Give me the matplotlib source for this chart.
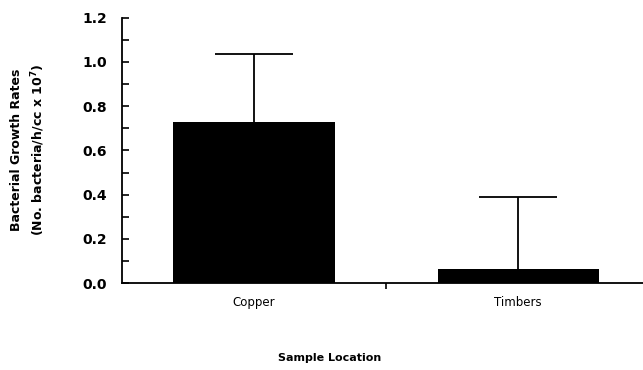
import matplotlib
matplotlib.use("Agg")
import matplotlib.pyplot as plt
from matplotlib.ticker import MultipleLocator

# data
locations = ["Copper", "Timbers"]
growth = [0.73, 0.065]
err_upper = [0.305, 0.325]
y_ticks = [0.0, 0.2, 0.4, 0.6, 0.8, 1.0, 1.2]

fig = plt.figure(figsize=(6.43, 3.70), dpi=100)
ax = fig.add_axes([122 / 643, 86.7 / 370, 1 - 122 / 643, (283.3 - 17.5) / 370])

x = list(range(len(locations)))
ax.bar(x, growth, width=0.61, color="black", zorder=2)
_, caps, _ = ax.errorbar(x, growth, yerr=[[0] * len(x), err_upper], fmt="none",
                         ecolor="black", elinewidth=1.3, capsize=28, capthick=1.3, zorder=1)
caps[0].set_visible(False)  # only the upper cap is drawn

ax.set_xlim(-0.5, 1.473)
ax.set_ylim(0, 1.2)
ax.set_yticks(y_ticks)
ax.set_yticklabels([f"{v:.1f}" for v in y_ticks], fontsize=10, fontweight="bold")
ax.yaxis.set_minor_locator(MultipleLocator(0.1))
ax.tick_params(axis="y", which="both", direction="in", length=5, width=1.2, pad=11)

ax.set_xticks(x)
ax.set_xticklabels(locations, fontsize=8.5)
ax.tick_params(axis="x", which="major", length=0, pad=9)
ax.set_xticks([0.5], minor=True)
ax.tick_params(axis="x", which="minor", direction="out", length=4, width=1.2)

for s in ["top", "right"]:
    ax.spines[s].set_visible(False)
ax.spines["left"].set_linewidth(1.3)
ax.spines["bottom"].set_linewidth(1.3)

fig.text(330 / 643, 1 - 358 / 370, "Sample Location", ha="center", va="center",
         fontsize=8, fontweight="bold")
fig.text(17 / 643, 1 - 150 / 370, "Bacterial Growth Rates", rotation=90,
         ha="center", va="center", fontsize=9, fontweight="bold")
fig.text(38 / 643, 1 - 150 / 370, "(No. bacteria/h/cc x 10$^{\\mathbf{7}}$)", rotation=90,
         ha="center", va="center", fontsize=9, fontweight="bold")

fig.savefig("out.png", dpi=100)
